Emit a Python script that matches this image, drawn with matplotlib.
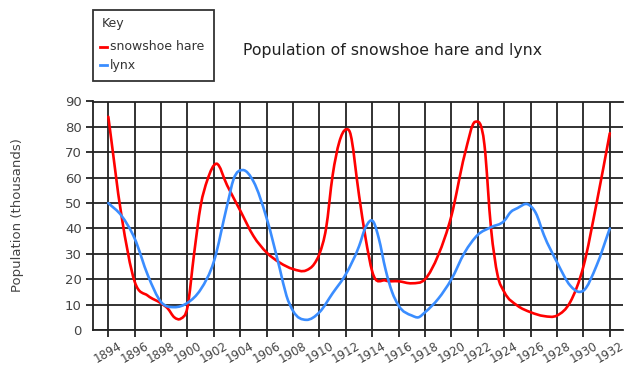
import numpy as np
import matplotlib
matplotlib.use("Agg")
import matplotlib.pyplot as plt
from matplotlib.path import Path
from matplotlib.patches import PathPatch, Rectangle
from matplotlib.lines import Line2D

plt.rcParams['font.family'] = ['DejaVu Sans']

# values (thousands)
hare_years = [1894, 1895, 1896, 1897, 1898, 1898.5, 1899, 1899.5, 1900, 1900.5,
              1901, 1901.5, 1902.2, 1903, 1904, 1905, 1906, 1907, 1908, 1909,
              1909.6, 1910, 1910.5, 1911, 1911.5, 1912, 1912.3, 1913, 1913.5, 1914,
              1915, 1916, 1917, 1918, 1919, 1920, 1921, 1921.8, 1922.5, 1923,
              1923.5, 1924, 1925, 1926, 1927, 1928, 1929, 1930, 1931, 1932]
hare = [84, 45, 19, 13.5, 10.5, 8.5, 5, 4.5, 9, 30,
        49, 59, 65.5, 57, 47, 37, 30.5, 26.5, 24, 23.5,
        26, 30, 40, 61, 74, 79, 78, 53, 36, 23,
        19.5, 19.2, 18.4, 20, 29.5, 45, 69, 82, 73, 40,
        21.5, 15, 9.6, 7, 5.5, 5.7, 11, 25, 50, 77.5]

lynx_years = [1894, 1895, 1896, 1897, 1898, 1899, 1900, 1901, 1902, 1903,
              1903.5, 1904.2, 1905, 1906, 1907, 1907.5, 1908, 1909, 1910, 1911,
              1912, 1913, 1913.5, 1914.1, 1914.5, 1915, 1915.5, 1916, 1917, 1917.5,
              1918, 1919, 1920, 1921, 1922, 1923, 1924, 1924.5, 1925, 1925.8,
              1926.4, 1927, 1928, 1929, 1929.7, 1930, 1931, 1932]
lynx = [50, 45, 36, 21.5, 11, 9, 10.7, 16, 27, 49,
        59.5, 63, 58.5, 44, 24, 13.5, 7.5, 4, 7, 14.5,
        22, 33, 40.5, 42.5, 36, 24, 15, 9.6, 5.7, 5,
        7, 12.3, 20, 30.5, 37.5, 40.5, 43, 46.5, 48, 49.5,
        46, 37.5, 26.7, 17.5, 15, 15.5, 25.4, 40]

tick_years = list(range(1894, 1933, 2))
y_ticks = list(range(0, 91, 10))
series_names = ['snowshoe hare', 'lynx']
series_colors = ['#ff0000', '#3a8dff']


def smooth_path(xs, ys):
    # cubic hermite through the points, drawn as bezier segments
    x = np.asarray(xs, float)
    y = np.asarray(ys, float)
    m = np.gradient(y, x)
    verts = [(x[0], y[0])]
    codes = [Path.MOVETO]
    for i in range(len(x) - 1):
        h = x[i + 1] - x[i]
        verts += [(x[i] + h / 3, y[i] + m[i] * h / 3),
                  (x[i + 1] - h / 3, y[i + 1] - m[i + 1] * h / 3),
                  (x[i + 1], y[i + 1])]
        codes += [Path.CURVE4] * 3
    return Path(verts, codes)


W, H = 640, 370
fig = plt.figure(figsize=(6.4, 3.7), dpi=100)
ax = fig.add_axes([93 / W, 1 - 330 / H, 530 / W, 228.5 / H])

grid_c = '#222222'
ax.set_xlim(1892.84, 1933.0)
ax.set_ylim(0, 90)
ax.set_xticks(tick_years)
ax.set_xticklabels([str(t) for t in tick_years], rotation=30, ha='center')
ax.set_yticks(y_ticks)
ax.grid(True, color=grid_c, lw=1.3)
ax.set_axisbelow(True)
for side in ['left', 'bottom', 'top']:
    ax.spines[side].set_color(grid_c)
    ax.spines[side].set_linewidth(1.3)
ax.spines['right'].set_visible(False)
ax.tick_params(axis='both', direction='out', length=5, width=1.3, color=grid_c,
               labelcolor='#444444')
ax.tick_params(axis='x', labelsize=8.5, pad=2)
ax.tick_params(axis='y', labelsize=9.5, pad=3)
ax.yaxis.get_major_ticks()[0].tick1line.set_visible(False)

for xs, ys, c in zip([hare_years, lynx_years], [hare, lynx], series_colors):
    ax.add_patch(PathPatch(smooth_path(xs, ys), fill=False, edgecolor=c,
                           lw=1.9, capstyle='round', zorder=3))

fig.text(393 / W, 1 - 50 / H, 'Population of snowshoe hare and lynx',
         ha='center', va='center', fontsize=11.3, color='#222222')
fig.text(18 / W, 1 - 215 / H, 'Population (thousands)', rotation=90,
         ha='center', va='center', fontsize=9.5, color='#444444')

# key box drawn by hand to get the reference spacing
fig.add_artist(Rectangle((93 / W, 1 - 81 / H), 121 / W, 71 / H, transform=fig.transFigure,
                         facecolor='white', edgecolor='#333333', lw=1.3))
fig.text(102 / W, 1 - 23 / H, 'Key', ha='left', va='center', fontsize=9, color='#333333')
for i, (name, c) in enumerate(zip(series_names, series_colors)):
    yy = 1 - (47 + 18 * i) / H
    fig.add_artist(Line2D([100 / W, 106.5 / W], [yy, yy], transform=fig.transFigure,
                          color=c, lw=2))
    fig.text(109.5 / W, yy, name, ha='left', va='center', fontsize=9, color='#333333')

fig.savefig('out.png', dpi=100)
